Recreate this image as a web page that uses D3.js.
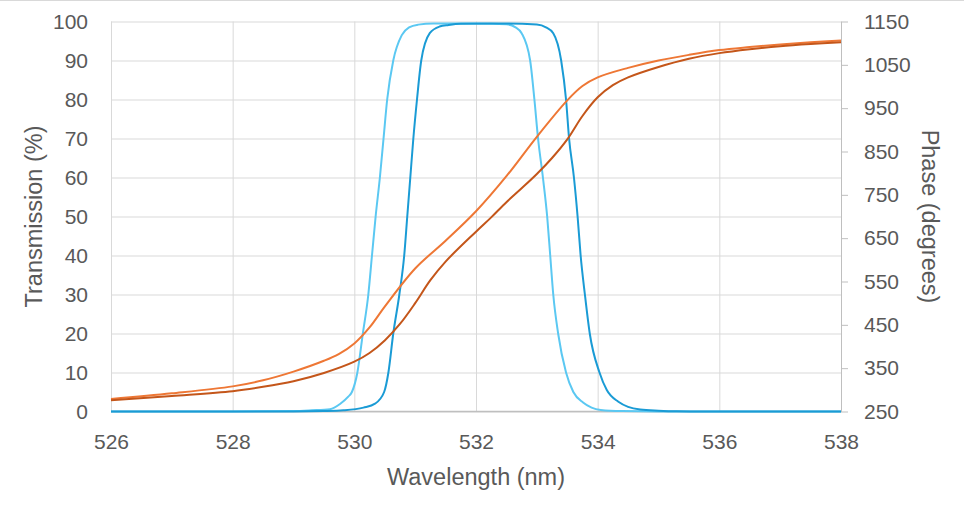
<!DOCTYPE html>
<html>
<head>
<meta charset="utf-8">
<script src="https://cdn.jsdelivr.net/npm/d3@7"></script>
<style>
  body { margin: 0; background: #fff; }
  text { font-family: "Liberation Sans", Arial, sans-serif; fill: #595959; }
</style>
</head>
<body>
<svg width="964" height="509"></svg>
<script>
const svg = d3.select("svg");

const width = +svg.attr("width");
const height = +svg.attr("height");

// transmission, %  [wavelength nm, value]
const transLight = [
    [526, 0], [528, 0], [529, 0.1], [529.3, 0.3], [529.6, 0.6], [529.77, 2], [529.9, 3.8],
    [529.96, 5], [530.05, 10], [530.14, 20], [530.23, 30], [530.29, 40], [530.35, 50],
    [530.42, 60], [530.48, 70], [530.54, 80], [530.64, 90], [530.78, 96.5], [530.9, 98.5],
    [531.05, 99.2], [531.3, 99.5], [532.0, 99.5], [532.5, 99.3], [532.65, 98.5], [532.75, 97],
    [532.89, 90], [532.96, 80], [533.02, 70], [533.1, 60], [533.17, 50], [533.22, 40],
    [533.27, 30], [533.35, 20], [533.48, 10], [533.6, 5], [533.76, 2.3], [533.9, 1],
    [534.05, 0.4], [534.4, 0.1], [535, 0], [538, 0]
];

const transDark = [
    [526, 0], [529, 0], [529.5, 0.1], [529.82, 0.3], [530.15, 1], [530.34, 2], [530.49, 5],
    [530.56, 10], [530.64, 20], [530.74, 30], [530.82, 40], [530.87, 50], [530.92, 60],
    [530.97, 70], [531.03, 80], [531.1, 90], [531.24, 97], [531.4, 98.7], [531.55, 99.1],
    [531.75, 99.4], [532.5, 99.5], [533.0, 99.2], [533.15, 98.5], [533.27, 97], [533.4, 90],
    [533.48, 80], [533.53, 70], [533.61, 60], [533.67, 50], [533.72, 40], [533.79, 30],
    [533.87, 20], [534.03, 10], [534.15, 5.5], [534.34, 2.5], [534.5, 1.2], [534.7, 0.5],
    [535.0, 0.2], [535.3, 0.05], [536, 0], [538, 0]
];

// phase, degrees
const phaseLight = [
    [526, 279], [527, 292], [528, 308], [528.5, 322], [529, 342], [529.5, 367],
    [529.75, 383], [530, 407], [530.25, 444], [530.5, 492], [531, 580], [531.5, 644],
    [532, 712], [532.5, 793], [533, 884], [533.5, 968], [533.75, 1001], [534, 1021],
    [534.5, 1043], [535, 1060], [535.5, 1073], [536, 1084], [536.5, 1091], [537, 1097],
    [537.5, 1102], [538, 1106]
];

const phaseDark = [
    [526, 276], [527, 286], [528, 297], [528.5, 307], [529, 320], [529.5, 339],
    [530, 365], [530.25, 385], [530.5, 414], [530.75, 452], [531, 500], [531.25, 553],
    [531.5, 596], [532, 665], [532.25, 698], [532.5, 733], [532.75, 765], [533, 798],
    [533.25, 835], [533.5, 878], [533.75, 932], [534, 975], [534.25, 1003], [534.5, 1021],
    [535, 1045], [535.5, 1064], [536, 1077], [536.5, 1086], [537, 1093], [537.5, 1098],
    [538, 1102]
];

const xTicks = [526, 528, 530, 532, 534, 536, 538];
const yTicks = [0, 10, 20, 30, 40, 50, 60, 70, 80, 90, 100];
const phaseTicks = [250, 350, 450, 550, 650, 750, 850, 950, 1050, 1150];

const plotLeft = 111, plotRight = 841, plotTop = 21.5, plotBottom = 411.5;

const x = d3.scaleLinear().domain([526, 538]).range([plotLeft, plotRight]);
const y = d3.scaleLinear().domain([0, 100]).range([plotBottom, plotTop]);
const yPhase = d3.scaleLinear().domain([250, 1150]).range([plotBottom, plotTop]);

// thin chart border at the top edge
svg.append("line")
    .attr("x1", 0).attr("x2", width)
    .attr("y1", 0.5).attr("y2", 0.5)
    .attr("stroke", "#d9d9d9");

// horizontal grid + left labels
const yAxisG = svg.append("g")
    .attr("transform", "translate(" + plotLeft + ",0)")
    .call(d3.axisLeft(y).tickValues(yTicks).tickSize(-(plotRight - plotLeft)).tickPadding(23));
yAxisG.select(".domain").remove();
yAxisG.selectAll("line").attr("stroke", "#d9d9d9");
yAxisG.selectAll("text").style("font-size", "21px").attr("fill", "#595959");

// vertical grid + bottom labels
const xAxisG = svg.append("g")
    .attr("transform", "translate(0," + plotBottom + ")")
    .call(d3.axisBottom(x).tickValues(xTicks).tickSize(-(plotBottom - plotTop)).tickPadding(23));
xAxisG.select(".domain").remove();
xAxisG.selectAll("line").attr("stroke", "#d9d9d9");
xAxisG.selectAll("text").style("font-size", "21px").attr("fill", "#595959");

svg.append("line")
    .attr("x1", plotLeft).attr("x2", plotRight)
    .attr("y1", plotBottom).attr("y2", plotBottom)
    .attr("stroke", "#bfbfbf").attr("stroke-width", 1.5);

// right axis
const rAxisG = svg.append("g")
    .attr("transform", "translate(" + plotRight + ",0)")
    .call(d3.axisRight(yPhase).tickValues(phaseTicks).tickFormat(d3.format("d"))
        .tickSizeInner(7).tickSizeOuter(0).tickPadding(16));
rAxisG.select(".domain").attr("stroke", "#bfbfbf");
rAxisG.selectAll("line").attr("stroke", "#bfbfbf");
rAxisG.selectAll("text").style("font-size", "21px").attr("fill", "#595959");

const transLine = d3.line()
    .x(function(d) { return x(d[0]); })
    .y(function(d) { return y(d[1]); })
    .curve(d3.curveMonotoneX);

const phaseLine = d3.line()
    .x(function(d) { return x(d[0]); })
    .y(function(d) { return yPhase(d[1]); })
    .curve(d3.curveCatmullRom.alpha(0.5));

const series = [
    {data: transLight, line: transLine, color: "#5bc8f2"},
    {data: transDark, line: transLine, color: "#1a9bd5"},
    {data: phaseLight, line: phaseLine, color: "#ee7735"},
    {data: phaseDark, line: phaseLine, color: "#c4561a"}
];

svg.append("g")
    .selectAll("path")
    .data(series)
    .enter().append("path")
        .attr("d", function(d) { return d.line(d.data); })
        .attr("fill", "none")
        .attr("stroke", function(d) { return d.color; })
        .attr("stroke-width", 2);

// axis titles
svg.append("text")
    .attr("transform", "translate(42," + ((plotTop + plotBottom) / 2) + ") rotate(-90)")
    .attr("text-anchor", "middle")
    .style("font-size", "23.5px")
    .text("Transmission (%)");

svg.append("text")
    .attr("transform", "translate(922," + ((plotTop + plotBottom) / 2) + ") rotate(90)")
    .attr("text-anchor", "middle")
    .style("font-size", "23.5px")
    .text("Phase (degrees)");

svg.append("text")
    .attr("x", (plotLeft + plotRight) / 2)
    .attr("y", 485)
    .attr("text-anchor", "middle")
    .style("font-size", "23.5px")
    .text("Wavelength (nm)");
</script>
</body>
</html>
